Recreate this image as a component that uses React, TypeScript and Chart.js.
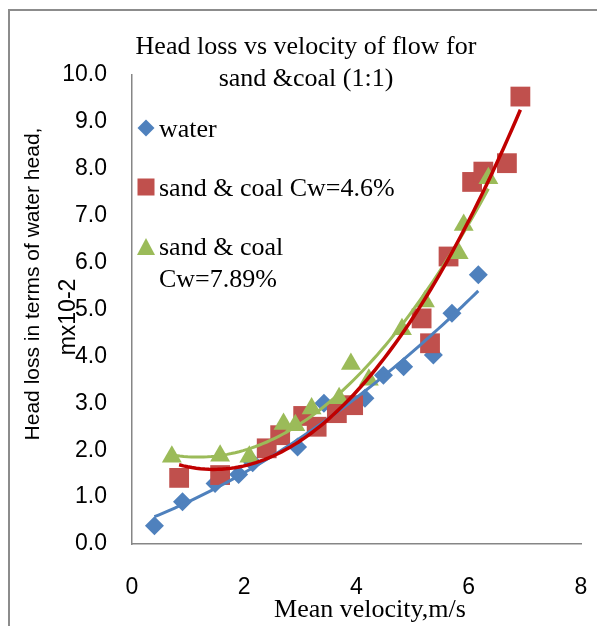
import React, { useEffect, useRef } from "react";
import { Chart, registerables } from "chart.js";

Chart.register(...registerables);

// ---- data ----
const waterX = [0.40, 0.90, 1.48, 1.90, 2.15, 2.95, 3.42, 4.15, 4.48, 4.84, 5.37, 5.70, 6.17];
const waterY = [0.39, 0.90, 1.29, 1.48, 1.73, 2.07, 3.00, 3.11, 3.60, 3.78, 4.03, 4.92, 5.74];

const sc46X = [0.84, 1.57, 2.40, 2.64, 3.05, 3.29, 3.65, 3.94, 5.16, 5.31, 5.64, 6.06, 6.26, 6.68, 6.92];
const sc46Y = [1.41, 1.47, 2.04, 2.32, 2.73, 2.50, 2.79, 2.96, 4.81, 4.28, 6.13, 7.72, 7.94, 8.12, 9.54];

const sc789X = [0.71, 1.57, 2.09, 2.70, 2.91, 3.20, 3.69, 3.90, 4.22, 4.81, 5.22, 5.82, 5.91, 6.35];
const sc789Y = [1.86, 1.88, 1.86, 2.56, 2.53, 2.89, 3.11, 3.84, 3.50, 4.58, 5.17, 6.20, 6.80, 7.80];

const seriesNames = ["water", "sand & coal Cw=4.6%", "sand & coal", "Cw=7.89%"];
const titleLines = ["Head loss vs velocity of flow for", "sand &coal (1:1)"];
const yTitleLines = ["Head loss in terms of water head,", "mx10-2"];
const xTitle = "Mean velocity,m/s";

const xMin = 0, xMax = 8, xStep = 2;
const yMin = 0, yMax = 10, yStep = 1;

const BLUE = "#4F81BD";
const RED = "#C0504D";
const DARKRED = "#C00000";
const GREEN = "#9BBB59";

// Excel-style polynomial (order 2) trendline: least-squares fit of the series
function polyTrend(xs: number[], ys: number[], steps = 80) {
  let n = xs.length, sx = 0, sx2 = 0, sx3 = 0, sx4 = 0, sy = 0, sxy = 0, sx2y = 0;
  for (let i = 0; i < n; i++) {
    const x = xs[i], y = ys[i];
    sx += x; sx2 += x * x; sx3 += x * x * x; sx4 += x * x * x * x;
    sy += y; sxy += x * y; sx2y += x * x * y;
  }
  const det3 = (m: number[][]) =>
    m[0][0] * (m[1][1] * m[2][2] - m[1][2] * m[2][1]) -
    m[0][1] * (m[1][0] * m[2][2] - m[1][2] * m[2][0]) +
    m[0][2] * (m[1][0] * m[2][1] - m[1][1] * m[2][0]);
  const A = [[n, sx, sx2], [sx, sx2, sx3], [sx2, sx3, sx4]];
  const B = [sy, sxy, sx2y];
  const D = det3(A);
  const coef = [0, 1, 2].map((k) => {
    const M = A.map((row, r) => row.map((v, c) => (c === k ? B[r] : v)));
    return det3(M) / D;
  });
  const lo = Math.min(...xs), hi = Math.max(...xs);
  const pts: { x: number; y: number }[] = [];
  for (let i = 0; i <= steps; i++) {
    const x = lo + ((hi - lo) * i) / steps;
    pts.push({ x, y: coef[0] + coef[1] * x + coef[2] * x * x });
  }
  return pts;
}

const toPts = (xs: number[], ys: number[]) => xs.map((x, i) => ({ x, y: ys[i] }));

const overlayPlugin = {
  id: "overlay",
  afterDraw(chart: any) {
    const ctx = chart.ctx as CanvasRenderingContext2D;
    ctx.save();
    // chart area frame (partially visible)
    ctx.strokeStyle = "#8c8c8c";
    ctx.lineWidth = 2;
    ctx.beginPath();
    ctx.moveTo(9, 626);
    ctx.lineTo(9, 10);
    ctx.lineTo(597, 10);
    ctx.stroke();

    ctx.fillStyle = "#000";
    // title
    ctx.font = "26px 'Liberation Serif'";
    ctx.textAlign = "center";
    ctx.textBaseline = "alphabetic";
    ctx.fillText(titleLines[0], 306, 54);
    ctx.fillText(titleLines[1], 306, 86);

    // x title
    ctx.fillText(xTitle, 370, 617);

    // y title
    ctx.font = "21px 'Liberation Sans'";
    ctx.textBaseline = "middle";
    ctx.save();
    ctx.translate(33, 284);
    ctx.rotate(-Math.PI / 2);
    ctx.fillText(yTitleLines[0], 0, 0);
    ctx.restore();
    ctx.font = "23px 'Liberation Sans'";
    ctx.save();
    ctx.translate(69, 317);
    ctx.rotate(-Math.PI / 2);
    ctx.fillText(yTitleLines[1], 0, 0);
    ctx.restore();

    // legend
    ctx.font = "26px 'Liberation Serif'";
    ctx.textAlign = "left";
    ctx.textBaseline = "alphabetic";
    // diamond
    ctx.fillStyle = BLUE;
    ctx.beginPath();
    ctx.moveTo(146, 119.5);
    ctx.lineTo(154.5, 128);
    ctx.lineTo(146, 136.5);
    ctx.lineTo(137.5, 128);
    ctx.closePath();
    ctx.fill();
    // square
    ctx.fillStyle = RED;
    ctx.fillRect(137.5, 178.5, 17, 17);
    // triangle
    ctx.fillStyle = GREEN;
    ctx.beginPath();
    ctx.moveTo(146, 238);
    ctx.lineTo(155, 255);
    ctx.lineTo(137, 255);
    ctx.closePath();
    ctx.fill();

    ctx.fillStyle = "#000";
    ctx.fillText(seriesNames[0], 159, 137);
    ctx.fillText(seriesNames[1], 159, 196);
    ctx.fillText(seriesNames[2], 159, 255);
    ctx.fillText(seriesNames[3], 159, 287);
    ctx.restore();
  },
};

export default function App() {
  const ref = useRef<HTMLCanvasElement | null>(null);

  useEffect(() => {
    if (!ref.current) return;
    const chart = new Chart(ref.current, {
      type: "scatter",
      data: {
        datasets: [
          {
            label: "trend Cw=4.6%",
            data: polyTrend(sc46X, sc46Y),
            showLine: true,
            borderColor: DARKRED,
            borderWidth: 3.5,
            pointRadius: 0,
            tension: 0,
          },
          {
            label: "trend Cw=7.89%",
            data: polyTrend(sc789X, sc789Y),
            showLine: true,
            borderColor: GREEN,
            borderWidth: 3,
            pointRadius: 0,
            tension: 0,
          },
          {
            label: "trend water",
            data: polyTrend(waterX, waterY),
            showLine: true,
            borderColor: BLUE,
            borderWidth: 3,
            pointRadius: 0,
            tension: 0,
          },
          {
            label: seriesNames[2] + " " + seriesNames[3],
            data: toPts(sc789X, sc789Y),
            pointStyle: "triangle",
            pointRadius: 11.5,
            backgroundColor: GREEN,
            borderColor: GREEN,
            borderWidth: 0,
          },
          {
            label: seriesNames[1],
            data: toPts(sc46X, sc46Y),
            pointStyle: "rect",
            pointRadius: 14,
            backgroundColor: RED,
            borderColor: RED,
            borderWidth: 0,
          },
          {
            label: seriesNames[0],
            data: toPts(waterX, waterY),
            pointStyle: "rectRot",
            pointRadius: 9.5,
            backgroundColor: BLUE,
            borderColor: BLUE,
            borderWidth: 0,
          },
        ],
      },
      options: {
        animation: false,
        responsive: false,
        maintainAspectRatio: false,
        layout: { padding: { left: 0, right: 16, top: 75, bottom: 0 } },
        plugins: {
          legend: { display: false },
          title: { display: false },
          tooltip: { enabled: false },
        },
        scales: {
          x: {
            type: "linear",
            min: xMin,
            max: xMax,
            ticks: {
              stepSize: xStep,
              color: "#000",
              padding: 30,
              font: { family: "'Liberation Sans'", size: 23 },
            },
            grid: { display: false, drawTicks: false },
            border: { display: true, color: "#868686", width: 1.5 },
            afterFit: (s: any) => {
              s.height = 82;
              s.paddingLeft = 0;
              s.paddingRight = 0;
            },
          },
          y: {
            type: "linear",
            min: yMin,
            max: yMax,
            ticks: {
              stepSize: yStep,
              color: "#000",
              padding: 25,
              font: { family: "'Liberation Sans'", size: 23 },
              callback: (v: any) => Number(v).toFixed(1),
            },
            grid: { display: false, drawTicks: false },
            border: { display: true, color: "#868686", width: 1.5 },
            afterFit: (s: any) => {
              s.width = 132;
              s.paddingTop = 0;
              s.paddingBottom = 0;
            },
          },
        },
      },
      plugins: [overlayPlugin],
    });
    return () => chart.destroy();
  }, []);

  return (
    <div style={{ position: "absolute", left: 0, top: 0, width: 597, height: 626, background: "#fff" }}>
      <canvas ref={ref} width={597} height={626} style={{ display: "block" }} />
    </div>
  );
}
